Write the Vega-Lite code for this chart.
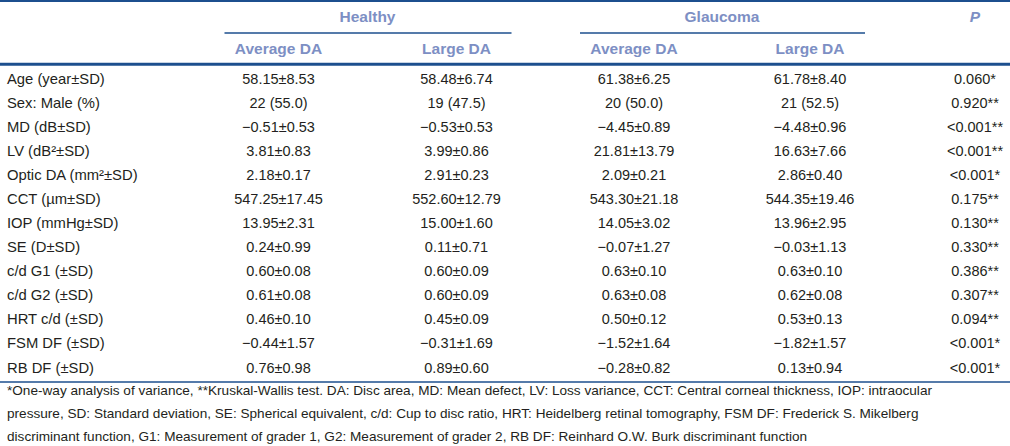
{
  "$schema": "https://vega.github.io/schema/vega-lite/v6.json",
  "width": 1010,
  "height": 446,
  "autosize": {"type": "none"},
  "padding": 0,
  "background": "white",
  "config": {"view": {"stroke": null}, "text": {"font": "Liberation Sans"}},
  "datasets": {
    "groups": [
      {"r": -2, "c": 1.5, "t": "Healthy"},
      {"r": -2, "c": 3.5, "t": "Glaucoma"}
    ],
    "phead": [{"r": -2, "c": 5, "t": "P"}],
    "subs": [
      {"r": -1, "c": 1, "t": "Average DA"},
      {"r": -1, "c": 2, "t": "Large DA"},
      {"r": -1, "c": 3, "t": "Average DA"},
      {"r": -1, "c": 4, "t": "Large DA"}
    ],
    "underlines": [
      {"r": -1.5, "c1": 1, "c2": 2},
      {"r": -1.5, "c1": 3, "c2": 4}
    ],
    "cells": [
      {"r": 0, "c": 0, "t": "Age (year±SD)"}, {"r": 0, "c": 1, "t": "58.15±8.53"}, {"r": 0, "c": 2, "t": "58.48±6.74"}, {"r": 0, "c": 3, "t": "61.38±6.25"}, {"r": 0, "c": 4, "t": "61.78±8.40"}, {"r": 0, "c": 5, "t": "0.060*"},
      {"r": 1, "c": 0, "t": "Sex: Male (%)"}, {"r": 1, "c": 1, "t": "22 (55.0)"}, {"r": 1, "c": 2, "t": "19 (47.5)"}, {"r": 1, "c": 3, "t": "20 (50.0)"}, {"r": 1, "c": 4, "t": "21 (52.5)"}, {"r": 1, "c": 5, "t": "0.920**"},
      {"r": 2, "c": 0, "t": "MD (dB±SD)"}, {"r": 2, "c": 1, "t": "−0.51±0.53"}, {"r": 2, "c": 2, "t": "−0.53±0.53"}, {"r": 2, "c": 3, "t": "−4.45±0.89"}, {"r": 2, "c": 4, "t": "−4.48±0.96"}, {"r": 2, "c": 5, "t": "<0.001**"},
      {"r": 3, "c": 0, "t": "LV (dB²±SD)"}, {"r": 3, "c": 1, "t": "3.81±0.83"}, {"r": 3, "c": 2, "t": "3.99±0.86"}, {"r": 3, "c": 3, "t": "21.81±13.79"}, {"r": 3, "c": 4, "t": "16.63±7.66"}, {"r": 3, "c": 5, "t": "<0.001**"},
      {"r": 4, "c": 0, "t": "Optic DA (mm²±SD)"}, {"r": 4, "c": 1, "t": "2.18±0.17"}, {"r": 4, "c": 2, "t": "2.91±0.23"}, {"r": 4, "c": 3, "t": "2.09±0.21"}, {"r": 4, "c": 4, "t": "2.86±0.40"}, {"r": 4, "c": 5, "t": "<0.001*"},
      {"r": 5, "c": 0, "t": "CCT (µm±SD)"}, {"r": 5, "c": 1, "t": "547.25±17.45"}, {"r": 5, "c": 2, "t": "552.60±12.79"}, {"r": 5, "c": 3, "t": "543.30±21.18"}, {"r": 5, "c": 4, "t": "544.35±19.46"}, {"r": 5, "c": 5, "t": "0.175**"},
      {"r": 6, "c": 0, "t": "IOP (mmHg±SD)"}, {"r": 6, "c": 1, "t": "13.95±2.31"}, {"r": 6, "c": 2, "t": "15.00±1.60"}, {"r": 6, "c": 3, "t": "14.05±3.02"}, {"r": 6, "c": 4, "t": "13.96±2.95"}, {"r": 6, "c": 5, "t": "0.130**"},
      {"r": 7, "c": 0, "t": "SE (D±SD)"}, {"r": 7, "c": 1, "t": "0.24±0.99"}, {"r": 7, "c": 2, "t": "0.11±0.71"}, {"r": 7, "c": 3, "t": "−0.07±1.27"}, {"r": 7, "c": 4, "t": "−0.03±1.13"}, {"r": 7, "c": 5, "t": "0.330**"},
      {"r": 8, "c": 0, "t": "c/d G1 (±SD)"}, {"r": 8, "c": 1, "t": "0.60±0.08"}, {"r": 8, "c": 2, "t": "0.60±0.09"}, {"r": 8, "c": 3, "t": "0.63±0.10"}, {"r": 8, "c": 4, "t": "0.63±0.10"}, {"r": 8, "c": 5, "t": "0.386**"},
      {"r": 9, "c": 0, "t": "c/d G2 (±SD)"}, {"r": 9, "c": 1, "t": "0.61±0.08"}, {"r": 9, "c": 2, "t": "0.60±0.09"}, {"r": 9, "c": 3, "t": "0.63±0.08"}, {"r": 9, "c": 4, "t": "0.62±0.08"}, {"r": 9, "c": 5, "t": "0.307**"},
      {"r": 10, "c": 0, "t": "HRT c/d (±SD)"}, {"r": 10, "c": 1, "t": "0.46±0.10"}, {"r": 10, "c": 2, "t": "0.45±0.09"}, {"r": 10, "c": 3, "t": "0.50±0.12"}, {"r": 10, "c": 4, "t": "0.53±0.13"}, {"r": 10, "c": 5, "t": "0.094**"},
      {"r": 11, "c": 0, "t": "FSM DF (±SD)"}, {"r": 11, "c": 1, "t": "−0.44±1.57"}, {"r": 11, "c": 2, "t": "−0.31±1.69"}, {"r": 11, "c": 3, "t": "−1.52±1.64"}, {"r": 11, "c": 4, "t": "−1.82±1.57"}, {"r": 11, "c": 5, "t": "<0.001*"},
      {"r": 12, "c": 0, "t": "RB DF (±SD)"}, {"r": 12, "c": 1, "t": "0.76±0.98"}, {"r": 12, "c": 2, "t": "0.89±0.60"}, {"r": 12, "c": 3, "t": "−0.28±0.82"}, {"r": 12, "c": 4, "t": "0.13±0.94"}, {"r": 12, "c": 5, "t": "<0.001*"}
    ],
    "notes": [
      {"r": 13, "c": 0, "t": "*One-way analysis of variance, **Kruskal-Wallis test. DA: Disc area, MD: Mean defect, LV: Loss variance, CCT: Central corneal thickness, IOP: intraocular"},
      {"r": 14, "c": 0, "t": "pressure, SD: Standard deviation, SE: Spherical equivalent, c/d: Cup to disc ratio, HRT: Heidelberg retinal tomography, FSM DF: Frederick S. Mikelberg"},
      {"r": 15, "c": 0, "t": "discriminant function, G1: Measurement of grader 1, G2: Measurement of grader 2, RB DF: Reinhard O.W. Burk discriminant function"}
    ]
  },
  "layer": [
    {
      "data": {"values": [{"r": -3}]},
      "mark": {"type": "rule", "color": "#1c4f8e", "strokeWidth": 2},
      "encoding": {"y": {"field": "r", "type": "quantitative", "axis": null, "scale": {"domain": [-3, -2, -1, 0, 12, 13, 15], "range": [1, 17, 49, 79.5, 368.5, 391, 436.5], "zero": false, "nice": false}}}
    },
    {
      "data": {"values": [{"r": -0.5}]},
      "mark": {"type": "rule", "color": "#1c4f8e", "strokeWidth": 3},
      "encoding": {"y": {"field": "r", "type": "quantitative", "axis": null, "scale": {"domain": [-3, -2, -1, 0, 12, 13, 15], "range": [1, 17, 49, 79.5, 368.5, 391, 436.5], "zero": false, "nice": false}}}
    },
    {
      "data": {"values": [{"r": 12.6}]},
      "mark": {"type": "rule", "color": "#1c4f8e", "strokeWidth": 1.5},
      "encoding": {"y": {"field": "r", "type": "quantitative", "axis": null, "scale": {"domain": [-3, -2, -1, 0, 12, 13, 15], "range": [1, 17, 49, 79.5, 368.5, 391, 436.5], "zero": false, "nice": false}}}
    },
    {
      "data": {"name": "underlines"},
      "mark": {"type": "rule", "color": "#1c4f8e", "strokeWidth": 1.5, "xOffset": -54, "x2Offset": 55},
      "encoding": {
        "x": {"field": "c1", "type": "quantitative", "axis": null, "scale": {"domain": [0, 1, 2, 3, 4, 5], "range": [7, 278.5, 456.5, 634, 810, 975], "zero": false, "nice": false}},
        "x2": {"field": "c2"},
        "y": {"field": "r", "type": "quantitative", "axis": null, "scale": {"domain": [-3, -2, -1, 0, 12, 13, 15], "range": [1, 17, 49, 79.5, 368.5, 391, 436.5], "zero": false, "nice": false}}
      }
    },
    {
      "data": {"name": "groups"},
      "mark": {"type": "text", "align": "center", "baseline": "middle", "fontSize": 15.5, "fontWeight": "bold", "color": "#7d8fc4"},
      "encoding": {
        "x": {"field": "c", "type": "quantitative", "axis": null, "scale": {"domain": [0, 1, 2, 3, 4, 5], "range": [7, 278.5, 456.5, 634, 810, 975], "zero": false, "nice": false}},
        "y": {"field": "r", "type": "quantitative", "axis": null, "scale": {"domain": [-3, -2, -1, 0, 12, 13, 15], "range": [1, 17, 49, 79.5, 368.5, 391, 436.5], "zero": false, "nice": false}},
        "text": {"field": "t"}
      }
    },
    {
      "data": {"name": "phead"},
      "mark": {"type": "text", "align": "center", "baseline": "middle", "fontSize": 15.5, "fontWeight": "bold", "fontStyle": "italic", "color": "#7d8fc4"},
      "encoding": {
        "x": {"field": "c", "type": "quantitative", "axis": null, "scale": {"domain": [0, 1, 2, 3, 4, 5], "range": [7, 278.5, 456.5, 634, 810, 975], "zero": false, "nice": false}},
        "y": {"field": "r", "type": "quantitative", "axis": null, "scale": {"domain": [-3, -2, -1, 0, 12, 13, 15], "range": [1, 17, 49, 79.5, 368.5, 391, 436.5], "zero": false, "nice": false}},
        "text": {"field": "t"}
      }
    },
    {
      "data": {"name": "subs"},
      "mark": {"type": "text", "align": "center", "baseline": "middle", "fontSize": 15.5, "fontWeight": "bold", "color": "#7d8fc4"},
      "encoding": {
        "x": {"field": "c", "type": "quantitative", "axis": null, "scale": {"domain": [0, 1, 2, 3, 4, 5], "range": [7, 278.5, 456.5, 634, 810, 975], "zero": false, "nice": false}},
        "y": {"field": "r", "type": "quantitative", "axis": null, "scale": {"domain": [-3, -2, -1, 0, 12, 13, 15], "range": [1, 17, 49, 79.5, 368.5, 391, 436.5], "zero": false, "nice": false}},
        "text": {"field": "t"}
      }
    },
    {
      "data": {"name": "cells"},
      "transform": [{"filter": "datum.c == 0"}],
      "mark": {"type": "text", "align": "left", "baseline": "middle", "fontSize": 14.8, "color": "#231f20"},
      "encoding": {
        "x": {"field": "c", "type": "quantitative", "axis": null, "scale": {"domain": [0, 1, 2, 3, 4, 5], "range": [7, 278.5, 456.5, 634, 810, 975], "zero": false, "nice": false}},
        "y": {"field": "r", "type": "quantitative", "axis": null, "scale": {"domain": [-3, -2, -1, 0, 12, 13, 15], "range": [1, 17, 49, 79.5, 368.5, 391, 436.5], "zero": false, "nice": false}},
        "text": {"field": "t"}
      }
    },
    {
      "data": {"name": "cells"},
      "transform": [{"filter": "datum.c > 0"}],
      "mark": {"type": "text", "align": "center", "baseline": "middle", "fontSize": 14.5, "color": "#231f20"},
      "encoding": {
        "x": {"field": "c", "type": "quantitative", "axis": null, "scale": {"domain": [0, 1, 2, 3, 4, 5], "range": [7, 278.5, 456.5, 634, 810, 975], "zero": false, "nice": false}},
        "y": {"field": "r", "type": "quantitative", "axis": null, "scale": {"domain": [-3, -2, -1, 0, 12, 13, 15], "range": [1, 17, 49, 79.5, 368.5, 391, 436.5], "zero": false, "nice": false}},
        "text": {"field": "t"}
      }
    },
    {
      "data": {"name": "notes"},
      "mark": {"type": "text", "align": "left", "baseline": "middle", "fontSize": 13.6, "color": "#231f20"},
      "encoding": {
        "x": {"field": "c", "type": "quantitative", "axis": null, "scale": {"domain": [0, 1, 2, 3, 4, 5], "range": [7, 278.5, 456.5, 634, 810, 975], "zero": false, "nice": false}},
        "y": {"field": "r", "type": "quantitative", "axis": null, "scale": {"domain": [-3, -2, -1, 0, 12, 13, 15], "range": [1, 17, 49, 79.5, 368.5, 391, 436.5], "zero": false, "nice": false}},
        "text": {"field": "t"}
      }
    }
  ]
}
